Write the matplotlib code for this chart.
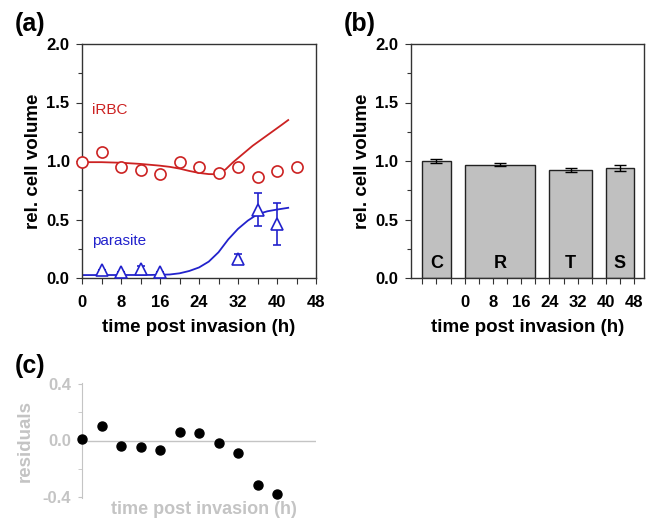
import matplotlib
matplotlib.use("Agg")
import matplotlib.pyplot as plt
from matplotlib.ticker import MultipleLocator

plt.rcParams["font.family"] = ["Liberation Sans", "DejaVu Sans"]
plt.rcParams["font.weight"] = "bold"

RED = "#cc2222"
BLUE = "#2222cc"
GREY = "#c4c4c4"

# (a) measured volumes
irbc_t = [0, 4, 8, 12, 16, 20, 24, 28, 32, 36, 40, 44]
irbc_v = [0.99, 1.08, 0.945, 0.925, 0.89, 0.99, 0.947, 0.9, 0.945, 0.865, 0.918, 0.95]
irbc_err = [0.0, 0.02, 0.03, 0.0, 0.0, 0.0, 0.02, 0.02, 0.0, 0.025, 0.02, 0.0]

para_t = [4, 8, 12, 16, 32, 36, 40]
para_v = [0.065, 0.05, 0.08, 0.055, 0.165, 0.585, 0.46]
para_err = [0.0, 0.0, 0.02, 0.0, 0.04, 0.14, 0.18]

# (a) model curves
irbc_fit_t = [0, 4, 8, 12, 16, 18, 20, 22, 24, 26, 27.5, 28.5, 29.5, 31, 33, 35, 37, 39, 41, 42.3]
irbc_fit_v = [0.99, 0.99, 0.985, 0.975, 0.96, 0.95, 0.935, 0.915, 0.898, 0.888, 0.887, 0.9,
              0.93, 0.99, 1.06, 1.13, 1.19, 1.25, 1.31, 1.35]
para_fit_t = [0, 14, 18, 20, 22, 24, 26, 28, 30, 32, 34, 36, 38, 40, 42.3]
para_fit_v = [0.025, 0.026, 0.03, 0.04, 0.06, 0.09, 0.14, 0.22, 0.33, 0.42, 0.49, 0.545,
              0.57, 0.585, 0.6]

# (b) stage bars
stage_labels = ["C", "R", "T", "S"]
stage_start = [-12, 0, 24, 40]
stage_end = [-4, 20, 36, 48]
stage_v = [1.0, 0.968, 0.925, 0.94]
stage_err = [0.02, 0.015, 0.015, 0.025]

# (c) residuals
res_t = [0, 4, 8, 12, 16, 20, 24, 28, 32, 36, 40]
res_v = [0.012, 0.1, -0.04, -0.047, -0.066, 0.06, 0.056, -0.016, -0.092, -0.316, -0.38]

fig = plt.figure(figsize=(6.52, 5.26), dpi=100)
ax_a = fig.add_axes([82 / 652, 1 - 278 / 526, 234 / 652, 234 / 526])
ax_b = fig.add_axes([411 / 652, 1 - 278 / 526, 233 / 652, 234 / 526])
ax_c = fig.add_axes([82 / 652, 1 - 498 / 526, 234 / 652, 115 / 526])

TICK_FS = 12
LABEL_FS = 13.5


def style_box(ax):
    for s in ax.spines.values():
        s.set_linewidth(1.0)
        s.set_color("#333333")
    ax.set_ylim(0, 2.0)
    ax.yaxis.set_major_locator(MultipleLocator(0.5))
    ax.yaxis.set_minor_locator(MultipleLocator(0.25))
    ax.xaxis.set_minor_locator(MultipleLocator(4))
    ax.tick_params(axis="both", which="both", direction="out", top=False, right=False,
                   labelsize=TICK_FS, width=0.8, color="#333333")
    ax.tick_params(axis="x", which="major", length=4, pad=8)
    ax.tick_params(axis="y", which="major", length=4, pad=5)
    ax.tick_params(axis="x", which="minor", length=4)
    ax.tick_params(axis="y", which="minor", length=3)
    ax.yaxis.set_major_formatter(plt.FormatStrFormatter("%.1f"))
    ax.set_ylabel("rel. cell volume", fontsize=LABEL_FS, fontweight="bold", labelpad=3)
    ax.set_xlabel("time post invasion (h)", fontsize=LABEL_FS, fontweight="bold", labelpad=7)


# (a)
style_box(ax_a)
ax_a.set_xlim(0, 48)
ax_a.xaxis.set_major_locator(MultipleLocator(8))
ax_a.plot(irbc_fit_t, irbc_fit_v, color=RED, lw=1.3, zorder=2)
ax_a.plot(para_fit_t, para_fit_v, color=BLUE, lw=1.3, zorder=2)
ax_a.errorbar(irbc_t, irbc_v, yerr=irbc_err, fmt="o", ms=8, mfc="white", mec=RED,
              mew=1.2, ecolor=RED, elinewidth=1.2, capsize=3, capthick=1.2, zorder=3,
              clip_on=False)
ax_a.errorbar(para_t, para_v, yerr=para_err, fmt="^", ms=8, mfc="white", mec=BLUE,
              mew=1.2, ecolor=BLUE, elinewidth=1.2, capsize=3, capthick=1.2, zorder=3)
ax_a.text(2.0, 1.44, "iRBC", color=RED, fontsize=11, fontweight="normal", va="center")
ax_a.text(2.0, 0.315, "parasite", color=BLUE, fontsize=11, fontweight="normal", va="center")

# (b)
style_box(ax_b)
ax_b.set_xlim(-15.2, 50.8)
ax_b.set_xticks([0, 8, 16, 24, 32, 40, 48])
ax_b.xaxis.set_minor_locator(MultipleLocator(4))
centers = [(s + e) / 2 for s, e in zip(stage_start, stage_end)]
widths = [e - s for s, e in zip(stage_start, stage_end)]
ax_b.bar(centers, stage_v, width=widths, color="#c0c0c0", edgecolor="#222222", lw=1.0,
         zorder=2)
ax_b.errorbar(centers, stage_v, yerr=stage_err, fmt="none", ecolor="black", elinewidth=1.0,
              capsize=4, capthick=1.0, zorder=3)
for c, lab in zip(centers, stage_labels):
    ax_b.text(c, 0.12, lab, ha="center", va="center", fontsize=13, fontweight="bold")

# (c)
ax_c.set_xlim(0, 48)
ax_c.set_ylim(-0.41, 0.41)
for s in ["top", "right", "bottom"]:
    ax_c.spines[s].set_visible(False)
ax_c.spines["left"].set_color(GREY)
ax_c.axhline(0, color=GREY, lw=1.0, zorder=1)
ax_c.plot(res_t, res_v, "o", color="black", ms=6.5, zorder=3, clip_on=False)
ax_c.set_xticks([])
ax_c.set_yticks([-0.4, 0.0, 0.4])
ax_c.yaxis.set_minor_locator(MultipleLocator(0.2))
ax_c.yaxis.set_major_formatter(plt.FormatStrFormatter("%.1f"))
ax_c.tick_params(axis="y", which="both", direction="out", color=GREY, labelcolor=GREY,
                 labelsize=TICK_FS, length=3, pad=5)
ax_c.set_ylabel("residuals", fontsize=LABEL_FS, fontweight="bold", color=GREY, labelpad=6)
ax_c.set_xlabel("time post invasion (h)", fontsize=13, fontweight="bold", color=GREY)
ax_c.xaxis.set_label_coords(0.52, -0.03)
ax_c.xaxis.label.set_va("top")

for lab, x, y in [("(a)", 15, 24), ("(b)", 344, 24), ("(c)", 15, 366)]:
    fig.text(x / 652, 1 - y / 526, lab, fontsize=18, fontweight="bold", va="center")

fig.savefig("out.png", dpi=100)
